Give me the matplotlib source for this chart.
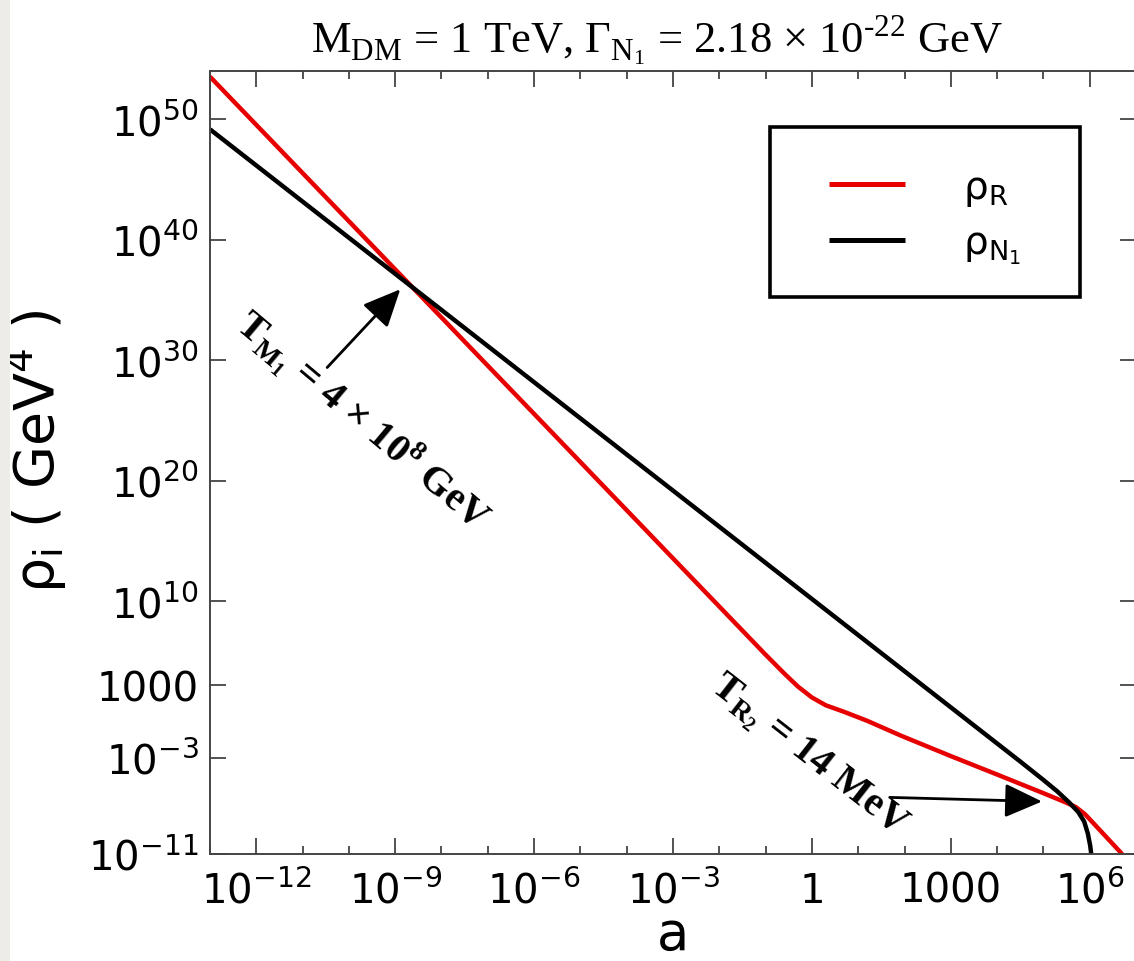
import matplotlib
matplotlib.use("Agg")
import matplotlib.pyplot as plt
from matplotlib.patches import Rectangle
from matplotlib.ticker import FixedLocator, FixedFormatter, NullFormatter

plt.rcParams['font.family'] = ['DejaVu Sans']
plt.rcParams['mathtext.fontset'] = 'dejavusans'

# Scale factor a and energy densities (GeV^4), given as log10 values
log_a_R = [-13.0, -8.78, -4.0, -1.0, -0.6, -0.3, 0.0, 0.3, 0.7, 1.2, 1.94,
           3.02, 4.0, 5.0, 5.46, 5.70, 5.90, 6.30, 6.70]
log_rho_R = [53.55, 36.67, 17.55, 5.55, 4.0, 2.9, 2.0, 1.35, 0.8, 0.05, -1.2,
             -2.9, -4.4, -5.95, -6.68, -7.1, -7.7, -9.35, -11.0]

log_a_N = [-13.0, -8.78, 0.0, 3.0, 4.5, 5.0, 5.3, 5.55, 5.75, 5.88, 5.96,
           6.01, 6.04]
log_rho_N = [49.18, 36.52, 10.18, 1.18, -3.32, -4.85, -5.8, -6.7, -7.5, -8.3,
             -9.3, -10.3, -11.2]

a_R = [10 ** v for v in log_a_R]
rho_R = [10 ** v for v in log_rho_R]
a_N = [10 ** v for v in log_a_N]
rho_N = [10 ** v for v in log_rho_N]

x_major = [1e-12, 1e-9, 1e-6, 1e-3, 1, 1e3, 1e6]
x_labels = [r'$10^{-12}$', r'$10^{-9}$', r'$10^{-6}$', r'$10^{-3}$', '1', '1000', r'$10^{6}$']
x_minor = [10.0 ** k for k in range(-13, 8)]
y_major = [1e50, 1e40, 1e30, 1e20, 1e10, 1e3, 1e-3, 1e-11]
y_labels = [r'$10^{50}$', r'$10^{40}$', r'$10^{30}$', r'$10^{20}$', r'$10^{10}$',
            '1000', r'$10^{-3}$', r'$10^{-11}$']

W, H = 1134, 962
fig = plt.figure(figsize=(W / 100, H / 100), dpi=100)
fig.patch.set_facecolor('white')
fig.patches.append(Rectangle((0, 0), 10 / W, 1, transform=fig.transFigure,
                             facecolor='#eeece9', edgecolor='none', zorder=0))

ax = fig.add_axes([210 / W, 1 - 855 / H, (1136 - 210) / W, (855 - 72.3) / H])
ax.set_xscale('log')
ax.set_yscale('log')
ax.set_xlim(1e-13, 1e7)
ax.set_ylim(1e-11, 1e54)

red = '#e60000'
ax.plot(a_R, rho_R, color=red, lw=3.2, label=r'ρ$_\mathregular{R}$', solid_capstyle='butt')
ax.plot(a_N, rho_N, color='black', lw=3.2, label=r'ρ$_\mathregular{N_1}$', solid_capstyle='butt')

spine_c = '#444444'
for s in ax.spines.values():
    s.set_color(spine_c)
    s.set_linewidth(1.4)

ax.xaxis.set_major_locator(FixedLocator(x_major))
ax.xaxis.set_major_formatter(FixedFormatter(x_labels))
ax.xaxis.set_minor_locator(FixedLocator(x_minor))
ax.xaxis.set_minor_formatter(NullFormatter())
ax.yaxis.set_major_locator(FixedLocator(y_major))
ax.yaxis.set_major_formatter(FixedFormatter(y_labels))
ax.yaxis.set_minor_locator(FixedLocator([]))

ax.tick_params(which='both', direction='in', top=True, right=True, color=spine_c,
               width=1.3, labelsize=29)
ax.tick_params(axis='x', pad=12)
ax.tick_params(axis='y', pad=8)
ax.tick_params(which='major', length=11.5)
ax.tick_params(which='minor', length=6)

ax.set_xlabel('a', fontsize=38, labelpad=-3)
ax.set_ylabel(r'ρ$_\mathregular{i}$ ( GeV$^\mathregular{4}$ )', fontsize=40)
ax.yaxis.set_label_coords(-0.152, 0.516)

ax.set_title(r'M$_\mathregular{DM}$ = 1 TeV, Γ$_\mathregular{N_1}$ = 2.18 × 10$^\mathregular{‐22}$ GeV',
             family='Liberation Serif', fontsize=32, pad=14, x=0.483)

# Legend entries without their own frame; the box is drawn separately
leg = ax.legend(loc='center', bbox_to_anchor=(925 / W, 1 - 218 / H),
                bbox_transform=fig.transFigure, fontsize=28, handlelength=1.95,
                handletextpad=1.5, labelspacing=0.4, frameon=False, borderpad=0)
for h in leg.legend_handles:
    h.set_linewidth(3.6)
fig.patches.append(Rectangle((770 / W, 1 - 298 / H), 310 / W, 170 / H,
                             transform=fig.transFigure, facecolor='none',
                             edgecolor='black', linewidth=2.6, zorder=3))

arrow = dict(arrowstyle='-|>,head_length=1.1,head_width=0.5', color='black', lw=2,
             mutation_scale=21, shrinkA=0, shrinkB=0)
ax.annotate('', xy=(10 ** -8.89, 10 ** 35.9), xytext=(10 ** -10.47, 10 ** 29.4),
            arrowprops=arrow)
ax.annotate('', xy=(10 ** 4.97, 10 ** -6.64), xytext=(10 ** 1.68, 10 ** -6.3),
            arrowprops=arrow)

ax.text(362, 962 - 422, r'T$_\mathregular{M_1}$ = 4 × 10$^\mathregular{8}$ GeV',
        transform=None, family='Liberation Serif', fontweight='bold', fontsize=29,
        rotation=-40, ha='center', va='center', rotation_mode='anchor')
ax.text(808, 962 - 757, r'T$_\mathregular{R_2}$ = 14 MeV',
        transform=None, family='Liberation Serif', fontweight='bold', fontsize=29,
        rotation=-38, ha='center', va='center', rotation_mode='anchor')

fig.savefig('out.png', dpi=100)
